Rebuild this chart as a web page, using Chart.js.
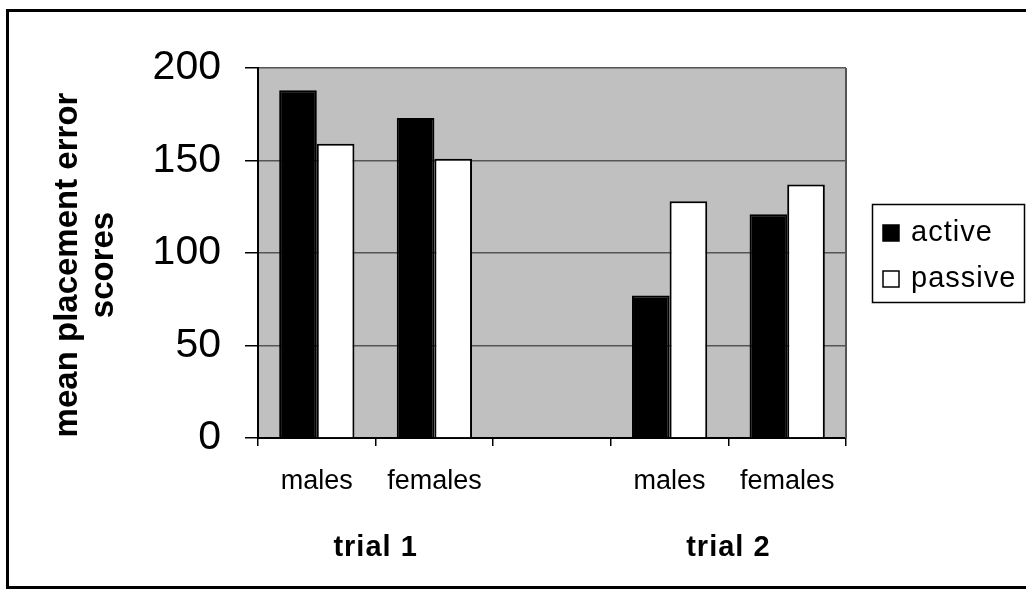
<!DOCTYPE html>
<html lang="en">
<head>
  <meta charset="UTF-8" />
  <title>Mean placement error scores</title>
  <script src="https://cdn.jsdelivr.net/npm/chart.js"></script>
  <style>
    html, body { margin: 0; padding: 0; background: #fff; }
    #wrap { width: 1026px; height: 590px; }
  </style>
</head>
<body>
  <div id="wrap"><canvas id="chart" width="1026" height="590"></canvas></div>
  <script>
    // data
    const groups = ['males', 'females', '', 'males', 'females'];
    const trials = ['trial 1', 'trial 2'];
    const active = [188, 173, null, 77, 121];
    const passive = [159, 151, null, 128, 137];
    const yTicks = [0, 50, 100, 150, 200];
    const yTitle = ['mean placement error', 'scores'];

    const FONT = '"Liberation Sans", Arial, sans-serif';

    // frame, grey plot background, axis title, trial labels and legend box
    const decor = {
      id: 'decor',
      beforeDraw(chart) {
        const { ctx, chartArea: a } = chart;
        ctx.save();
        ctx.fillStyle = '#c0c0c0';
        ctx.fillRect(a.left, a.top, a.right - a.left, a.bottom - a.top);
        ctx.restore();
      },
      afterDraw(chart) {
        const { ctx, chartArea: a } = chart;
        const x = chart.scales.x;
        ctx.save();

        // outer frame (right side runs off the picture)
        ctx.strokeStyle = '#000';
        ctx.lineWidth = 3;
        ctx.beginPath();
        ctx.moveTo(1030, 10.5);
        ctx.lineTo(7.5, 10.5);
        ctx.lineTo(7.5, 587.5);
        ctx.lineTo(1030, 587.5);
        ctx.stroke();

        // right edge of plot area
        ctx.strokeStyle = '#555';
        ctx.lineWidth = 2;
        ctx.beginPath();
        ctx.moveTo(a.right, a.top);
        ctx.lineTo(a.right, a.bottom);
        ctx.stroke();

        // y axis title, two lines
        ctx.fillStyle = '#000';
        ctx.font = 'bold 33px ' + FONT;
        ctx.textAlign = 'center';
        ctx.textBaseline = 'middle';
        ctx.translate(68, 265);
        ctx.rotate(-Math.PI / 2);
        yTitle.forEach((t, i) => ctx.fillText(t, 0, i * 36));
        ctx.setTransform(1, 0, 0, 1, 0, 0);

        // trial labels under each pair of groups
        ctx.font = 'bold 29px ' + FONT;
        ctx.letterSpacing = '1px';
        const l1 = (x.getPixelForValue(0) + x.getPixelForValue(1)) / 2;
        const l2 = (x.getPixelForValue(3) + x.getPixelForValue(4)) / 2;
        ctx.fillText(trials[0], l1, 548);
        ctx.fillText(trials[1], l2, 548);

        // legend
        ctx.strokeStyle = '#000';
        ctx.lineWidth = 1.5;
        ctx.strokeRect(872.5, 204.5, 152, 98);
        ctx.font = '29px ' + FONT;
        ctx.textAlign = 'left';
        chart.data.datasets.forEach((ds, i) => {
          const cy = 233 + i * 46;
          ctx.fillStyle = ds.backgroundColor;
          ctx.fillRect(883, cy - 8, 16, 16);
          ctx.strokeStyle = '#000';
          ctx.lineWidth = 1.5;
          ctx.strokeRect(883, cy - 8, 16, 16);
          ctx.fillStyle = '#000';
          ctx.fillText(ds.label, 911, cy);
        });
        ctx.restore();
      }
    };

    new Chart(document.getElementById('chart'), {
      type: 'bar',
      data: {
        labels: groups,
        datasets: [
          { label: 'active', data: active, backgroundColor: '#000', borderColor: '#000', borderWidth: 2 },
          { label: 'passive', data: passive, backgroundColor: '#fff', borderColor: '#000', borderWidth: 2 }
        ]
      },
      options: {
        responsive: false,
        animation: false,
        layout: { padding: { left: 0, right: 180, top: 68, bottom: 0 } },
        datasets: { bar: { categoryPercentage: 0.64, barPercentage: 1.0 } },
        plugins: { legend: { display: false }, tooltip: { enabled: false } },
        scales: {
          x: {
            afterFit: s => { s.height = 152; },
            grid: { offset: true, drawOnChartArea: false, tickLength: 8, color: '#000', lineWidth: 1.5 },
            border: { color: '#000', width: 2 },
            ticks: { color: '#000', font: { family: FONT, size: 27 }, padding: 19, maxRotation: 0, autoSkip: false }
          },
          y: {
            min: 0,
            max: 200,
            afterFit: s => { s.width = 258; },
            afterBuildTicks: s => { s.ticks = yTicks.map(v => ({ value: v })); },
            grid: { color: '#555', lineWidth: 1.5, tickLength: 13, tickColor: '#000' },
            border: { color: '#000', width: 2 },
            ticks: { color: '#000', font: { family: FONT, size: 41 }, padding: 24 }
          }
        }
      },
      plugins: [decor]
    });
  </script>
</body>
</html>
